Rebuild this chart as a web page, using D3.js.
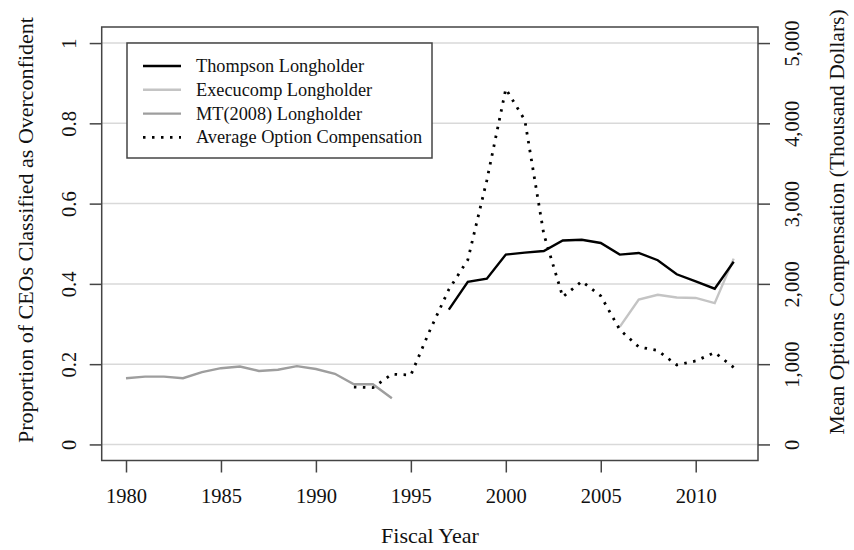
<!DOCTYPE html>
<html>
<head>
<meta charset="utf-8">
<script src="https://cdn.jsdelivr.net/npm/d3@7"></script>
<style>
body { margin: 0; background: #fff; }
svg text { font-family: "Liberation Serif", "DejaVu Serif", serif; fill: #111; }
</style>
</head>
<body>
<script>
// data
var mtYears = [1980,1981,1982,1983,1984,1985,1986,1987,1988,1989,1990,1991,1992,1993,1994];
var mtValues = [0.165,0.169,0.169,0.165,0.180,0.190,0.194,0.183,0.186,0.195,0.188,0.176,0.150,0.150,0.115];

var thompsonYears = [1997,1998,1999,2000,2001,2002,2003,2004,2005,2006,2007,2008,2009,2010,2011,2012];
var thompsonValues = [0.336,0.405,0.413,0.473,0.478,0.482,0.508,0.510,0.502,0.473,0.477,0.459,0.424,0.406,0.388,0.455];

var execYears = [2006,2007,2008,2009,2010,2011,2012];
var execValues = [0.293,0.361,0.373,0.366,0.365,0.352,0.463];

var optYears = [1992,1993,1994,1995,1996,1997,1998,1999,2000,2001,2002,2003,2004,2005,2006,2007,2008,2009,2010,2011,2012];
var optValues = [714,707,875,865,1420,1930,2300,3290,4430,4040,2620,1837,2032,1850,1430,1215,1170,990,1040,1145,960];

var xTicks = [1980,1985,1990,1995,2000,2005,2010];
var yTicks = [0,0.2,0.4,0.6,0.8,1];
var y2Ticks = [0,1000,2000,3000,4000,5000];

var legendLabels = ["Thompson Longholder","Execucomp Longholder","MT(2008) Longholder","Average Option Compensation"];

var width = 854, height = 550;
// plot box (window.top is reserved, so use other names)
var boxL = 101.7, boxR = 758, boxT = 27, boxB = 460.5;

var svg = d3.select("body").append("svg")
    .attr("width", width)
    .attr("height", height);

// R style 4% padding on each side
var x = d3.scaleLinear().domain([1980 - 1.28, 2012 + 1.28]).range([boxL, boxR]);
var y = d3.scaleLinear().domain([-0.04, 1.04]).range([boxB, boxT]);
var y2 = d3.scaleLinear().domain([-200, 5200]).range([boxB, boxT]);

// grid
svg.append("g").selectAll("line")
    .data(yTicks)
    .enter().append("line")
    .attr("x1", boxL).attr("x2", boxR)
    .attr("y1", d => y(d)).attr("y2", d => y(d))
    .style("stroke", "#d9d9d9")
    .style("stroke-width", 1.5);

// lines
var line = d3.line().x(d => x(d[0])).y(d => y(d[1]));
var line2 = d3.line().x(d => x(d[0])).y(d => y2(d[1]));

svg.append("path")
    .datum(mtYears.map((d, i) => [d, mtValues[i]]))
    .attr("d", line)
    .style("fill", "none").style("stroke", "#9e9e9e").style("stroke-width", 2.4);

svg.append("path")
    .datum(execYears.map((d, i) => [d, execValues[i]]))
    .attr("d", line)
    .style("fill", "none").style("stroke", "#c4c4c4").style("stroke-width", 2.4);

svg.append("path")
    .datum(thompsonYears.map((d, i) => [d, thompsonValues[i]]))
    .attr("d", line)
    .style("fill", "none").style("stroke", "#000").style("stroke-width", 2.4);

svg.append("path")
    .datum(optYears.map((d, i) => [d, optValues[i]]))
    .attr("d", line2)
    .style("fill", "none").style("stroke", "#000").style("stroke-width", 2.8)
    .style("stroke-dasharray", "2.5,6.5");

// box
svg.append("rect")
    .attr("x", boxL).attr("y", boxT)
    .attr("width", boxR - boxL).attr("height", boxB - boxT)
    .style("fill", "none").style("stroke", "#444").style("stroke-width", 1.5);

// axes
var xAxis = d3.axisBottom(x).tickValues(xTicks).tickFormat(d3.format("d")).tickSize(12);
var yAxis = d3.axisLeft(y).tickValues(yTicks).tickFormat(d => d === 0 || d === 1 ? String(d) : d3.format(".1f")(d)).tickSize(12);
var y2Axis = d3.axisRight(y2).tickValues(y2Ticks).tickFormat(d3.format(",")).tickSize(12);

var gx = svg.append("g").attr("transform", "translate(0," + boxB + ")").call(xAxis);
var gy = svg.append("g").attr("transform", "translate(" + boxL + ",0)").call(yAxis);
var gy2 = svg.append("g").attr("transform", "translate(" + boxR + ",0)").call(y2Axis);

[gx, gy, gy2].forEach(function(g) {
    g.select(".domain").remove();
    g.selectAll(".tick line").style("stroke", "#444").style("stroke-width", 1.5);
    g.selectAll("text").style("font-size", "20.5px").style("font-family", "Liberation Serif");
});

gx.selectAll(".tick text").attr("y", 42).attr("dy", null);

// rotate the y tick labels like R does
gy.selectAll(".tick text")
    .attr("x", null).attr("dy", null)
    .attr("text-anchor", "middle")
    .attr("transform", "translate(-25.5,0) rotate(-90)");
gy2.selectAll(".tick text")
    .attr("x", null).attr("dy", null)
    .attr("text-anchor", "middle")
    .attr("transform", "translate(41,0) rotate(-90)");

// axis titles
svg.append("text")
    .attr("x", 430).attr("y", 543)
    .attr("text-anchor", "middle")
    .style("font-size", "22px")
    .text("Fiscal Year");

svg.append("text")
    .attr("transform", "translate(33,230) rotate(-90)")
    .attr("text-anchor", "middle")
    .style("font-size", "22px")
    .text("Proportion of CEOs Classified as Overconfident");

svg.append("text")
    .attr("transform", "translate(844,222) rotate(-90)")
    .attr("text-anchor", "middle")
    .style("font-size", "21.5px")
    .text("Mean Options Compensation (Thousand Dollars)");

// legend
var legend = svg.append("g");
legend.append("rect")
    .attr("x", 127).attr("y", 43)
    .attr("width", 305).attr("height", 115)
    .style("fill", "#fff").style("stroke", "#444").style("stroke-width", 1.5);

var legendStyles = [
    {stroke: "#000", dash: null, w: 2.4},
    {stroke: "#c4c4c4", dash: null, w: 2.4},
    {stroke: "#9e9e9e", dash: null, w: 2.4},
    {stroke: "#000", dash: "2.5,6.5", w: 2.8}
];

var rows = legend.selectAll("g.row")
    .data(legendLabels)
    .enter().append("g")
    .attr("class", "row")
    .attr("transform", (d, i) => "translate(0," + (66 + i * 23.8) + ")");

rows.append("line")
    .attr("x1", 143).attr("x2", 181)
    .attr("y1", 0).attr("y2", 0)
    .style("stroke", (d, i) => legendStyles[i].stroke)
    .style("stroke-width", (d, i) => legendStyles[i].w)
    .style("stroke-dasharray", (d, i) => legendStyles[i].dash);

rows.append("text")
    .attr("x", 196).attr("y", 6)
    .style("font-size", "18.3px")
    .text(d => d);
</script>
</body>
</html>
